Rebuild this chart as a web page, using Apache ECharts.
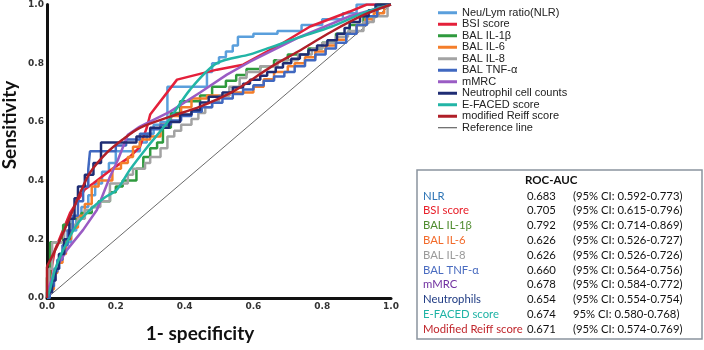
<!DOCTYPE html>
<html>
<head>
<meta charset="utf-8">
<script src="https://cdn.jsdelivr.net/npm/echarts@6/dist/echarts.min.js"></script>
<style>
  html, body { margin: 0; padding: 0; background: #fff; }
  #chart { width: 704px; height: 350px; }
</style>
</head>
<body>
<div id="chart"></div>
<script>
// ROC curves, [1 - specificity, sensitivity]
const nlrPts = [[0,0],[0,0.02],[0.01,0.02],[0.01,0.06],[0.02,0.06],[0.02,0.1],[0.035,0.1],[0.035,0.15],[0.05,0.15],[0.05,0.19],[0.07,0.19],[0.07,0.23],[0.085,0.23],[0.085,0.27],[0.1,0.27],[0.1,0.31],[0.12,0.31],[0.12,0.35],[0.14,0.35],[0.14,0.39],[0.16,0.39],[0.16,0.43],[0.18,0.43],[0.18,0.46],[0.2,0.46],[0.2,0.5],[0.27,0.5],[0.27,0.53],[0.29,0.53],[0.29,0.56],[0.31,0.56],[0.31,0.59],[0.33,0.59],[0.33,0.6],[0.35,0.6],[0.35,0.72],[0.465,0.72],[0.465,0.77],[0.48,0.77],[0.48,0.8],[0.5,0.8],[0.5,0.82],[0.52,0.82],[0.52,0.84],[0.54,0.84],[0.54,0.86],[0.555,0.86],[0.555,0.89],[0.6,0.89],[0.6,0.9],[0.67,0.9],[0.67,0.91],[0.74,0.91],[0.74,0.93],[0.8,0.93],[0.8,0.95],[0.86,0.95],[0.86,0.97],[0.9,0.97],[0.9,1],[1,1]];
const bsiPts = [[0,0],[0.01,0.08],[0.023,0.164],[0.067,0.29],[0.11,0.37],[0.134,0.39],[0.19,0.44],[0.24,0.48],[0.27,0.515],[0.29,0.58],[0.3,0.625],[0.378,0.744],[0.494,0.778],[0.57,0.795],[0.677,0.863],[0.765,0.925],[0.88,0.976],[0.93,1],[1,1]];
const il1bPts = [[0,0],[0,0.07],[0.009,0.07],[0.009,0.19],[0.047,0.19],[0.047,0.25],[0.075,0.25],[0.075,0.27],[0.1,0.27],[0.1,0.29],[0.13,0.29],[0.13,0.31],[0.15,0.31],[0.15,0.33],[0.183,0.33],[0.183,0.36],[0.2,0.36],[0.2,0.38],[0.22,0.38],[0.22,0.4],[0.26,0.4],[0.26,0.44],[0.28,0.44],[0.28,0.48],[0.3,0.48],[0.3,0.51],[0.32,0.51],[0.32,0.53],[0.337,0.53],[0.337,0.58],[0.36,0.58],[0.36,0.63],[0.387,0.63],[0.387,0.67],[0.445,0.67],[0.445,0.69],[0.48,0.69],[0.48,0.72],[0.52,0.72],[0.52,0.74],[0.55,0.74],[0.55,0.76],[0.58,0.76],[0.58,0.78],[0.62,0.78],[0.62,0.79],[0.66,0.79],[0.66,0.81],[0.7,0.81],[0.7,0.83],[0.76,0.83],[0.76,0.85],[0.8,0.85],[0.8,0.87],[0.84,0.87],[0.84,0.9],[0.88,0.9],[0.88,0.93],[0.92,0.93],[0.92,0.96],[0.96,0.96],[0.96,1],[1,1]];
const il6Pts = [[0,0],[0.005,0],[0.005,0.03],[0.02,0.03],[0.02,0.085],[0.03,0.085],[0.03,0.12],[0.045,0.12],[0.045,0.15],[0.055,0.15],[0.055,0.2],[0.07,0.2],[0.07,0.24],[0.09,0.24],[0.09,0.28],[0.11,0.28],[0.11,0.32],[0.13,0.32],[0.13,0.38],[0.15,0.38],[0.15,0.4],[0.19,0.4],[0.19,0.44],[0.215,0.44],[0.215,0.46],[0.235,0.46],[0.235,0.48],[0.25,0.48],[0.25,0.515],[0.27,0.515],[0.27,0.54],[0.3,0.54],[0.3,0.55],[0.33,0.55],[0.33,0.59],[0.36,0.59],[0.36,0.62],[0.39,0.62],[0.39,0.65],[0.42,0.65],[0.42,0.68],[0.465,0.68],[0.465,0.69],[0.53,0.69],[0.53,0.7],[0.6,0.7],[0.6,0.72],[0.63,0.72],[0.63,0.745],[0.66,0.745],[0.66,0.77],[0.7,0.77],[0.7,0.79],[0.72,0.79],[0.72,0.8],[0.75,0.8],[0.75,0.82],[0.78,0.82],[0.78,0.84],[0.81,0.84],[0.81,0.86],[0.84,0.86],[0.84,0.88],[0.87,0.88],[0.87,0.9],[0.9,0.9],[0.9,0.93],[0.925,0.93],[0.925,0.95],[0.95,0.95],[0.95,0.97],[0.98,0.97],[0.98,1],[1,1]];
const il8Pts = [[0,0],[0.006,0],[0.006,0.1],[0.015,0.1],[0.015,0.19],[0.05,0.19],[0.05,0.23],[0.07,0.23],[0.07,0.25],[0.09,0.25],[0.09,0.27],[0.11,0.27],[0.11,0.3],[0.13,0.3],[0.13,0.31],[0.155,0.31],[0.155,0.33],[0.183,0.33],[0.183,0.39],[0.235,0.39],[0.235,0.42],[0.25,0.42],[0.25,0.44],[0.285,0.44],[0.285,0.46],[0.3,0.46],[0.3,0.48],[0.33,0.48],[0.33,0.51],[0.35,0.51],[0.35,0.55],[0.37,0.55],[0.37,0.57],[0.39,0.57],[0.39,0.59],[0.42,0.59],[0.42,0.61],[0.44,0.61],[0.44,0.63],[0.46,0.63],[0.46,0.65],[0.48,0.65],[0.48,0.67],[0.5,0.67],[0.5,0.69],[0.53,0.69],[0.53,0.72],[0.56,0.72],[0.56,0.75],[0.58,0.75],[0.58,0.77],[0.62,0.77],[0.62,0.79],[0.67,0.79],[0.67,0.81],[0.73,0.81],[0.73,0.83],[0.77,0.83],[0.77,0.85],[0.8,0.85],[0.8,0.87],[0.84,0.87],[0.84,0.89],[0.875,0.89],[0.875,0.91],[0.92,0.91],[0.92,0.94],[0.95,0.94],[0.95,0.96],[0.99,0.96],[0.99,1],[1,1]];
const tnfPts = [[0,0],[0.008,0],[0.008,0.04],[0.02,0.04],[0.02,0.09],[0.03,0.09],[0.03,0.13],[0.045,0.13],[0.045,0.18],[0.06,0.18],[0.06,0.23],[0.075,0.23],[0.075,0.28],[0.09,0.28],[0.09,0.33],[0.105,0.33],[0.105,0.38],[0.12,0.38],[0.12,0.44],[0.125,0.44],[0.125,0.5],[0.2,0.5],[0.2,0.52],[0.23,0.52],[0.23,0.54],[0.27,0.54],[0.27,0.56],[0.3,0.56],[0.3,0.575],[0.33,0.575],[0.33,0.59],[0.36,0.59],[0.36,0.605],[0.39,0.605],[0.39,0.62],[0.42,0.62],[0.42,0.635],[0.45,0.635],[0.45,0.65],[0.48,0.65],[0.48,0.665],[0.51,0.665],[0.51,0.68],[0.54,0.68],[0.54,0.695],[0.57,0.695],[0.57,0.71],[0.6,0.71],[0.6,0.725],[0.63,0.725],[0.63,0.74],[0.66,0.74],[0.66,0.755],[0.69,0.755],[0.69,0.77],[0.72,0.77],[0.72,0.79],[0.75,0.79],[0.75,0.81],[0.78,0.81],[0.78,0.83],[0.81,0.83],[0.81,0.85],[0.84,0.85],[0.84,0.87],[0.87,0.87],[0.87,0.9],[0.9,0.9],[0.9,0.93],[0.93,0.93],[0.93,0.96],[0.96,0.96],[0.96,0.99],[0.98,0.99],[0.98,1],[1,1]];
const mmrcPts = [[0,0],[0.003,0.027],[0.023,0.096],[0.058,0.164],[0.105,0.232],[0.145,0.3],[0.183,0.413],[0.206,0.47],[0.235,0.556],[0.27,0.584],[0.358,0.635],[0.445,0.7],[0.523,0.761],[0.59,0.805],[0.735,0.89],[0.88,0.96],[1,1]];
const neutPts = [[0,0],[0.005,0],[0.005,0.02],[0.015,0.02],[0.015,0.06],[0.025,0.06],[0.025,0.1],[0.035,0.1],[0.035,0.15],[0.05,0.15],[0.05,0.2],[0.065,0.2],[0.065,0.27],[0.08,0.27],[0.08,0.34],[0.09,0.34],[0.09,0.38],[0.11,0.38],[0.11,0.42],[0.135,0.42],[0.135,0.46],[0.157,0.46],[0.157,0.53],[0.26,0.53],[0.26,0.55],[0.3,0.55],[0.3,0.58],[0.355,0.58],[0.355,0.6],[0.387,0.6],[0.387,0.625],[0.42,0.625],[0.42,0.64],[0.445,0.64],[0.445,0.666],[0.47,0.666],[0.47,0.686],[0.51,0.686],[0.51,0.7],[0.54,0.7],[0.54,0.717],[0.57,0.717],[0.57,0.73],[0.59,0.73],[0.59,0.744],[0.62,0.744],[0.62,0.757],[0.64,0.757],[0.64,0.77],[0.665,0.77],[0.665,0.785],[0.686,0.785],[0.686,0.8],[0.71,0.8],[0.71,0.815],[0.735,0.815],[0.735,0.83],[0.76,0.83],[0.76,0.845],[0.785,0.845],[0.785,0.86],[0.815,0.86],[0.815,0.878],[0.843,0.878],[0.843,0.9],[0.865,0.9],[0.865,0.92],[0.88,0.92],[0.88,0.94],[0.91,0.94],[0.91,0.96],[0.935,0.96],[0.935,0.98],[0.955,0.98],[0.955,1],[1,1]];
const efacedPts = [[0,0],[0.009,0.03],[0.023,0.096],[0.047,0.164],[0.087,0.25],[0.125,0.3],[0.165,0.34],[0.203,0.369],[0.241,0.437],[0.29,0.512],[0.349,0.597],[0.416,0.71],[0.494,0.8],[0.59,0.83],[0.648,0.853],[0.73,0.887],[0.828,0.925],[0.924,0.973],[1,1]];
const reiffPts = [[0,0],[0,0.105],[0.01,0.13],[0.038,0.198],[0.067,0.276],[0.1,0.368],[0.125,0.427],[0.174,0.495],[0.22,0.54],[0.27,0.58],[0.358,0.618],[0.445,0.652],[0.54,0.703],[0.648,0.785],[0.73,0.84],[0.828,0.908],[0.924,0.966],[1,1]];
const refPts = [[0,0],[1,1]];

const seriesNames = ['Neu/Lym ratio(NLR)', 'BSI score', 'BAL IL-1β', 'BAL IL-6', 'BAL IL-8', 'BAL TNF-α', 'mMRC', 'Neutrophil cell counts', 'E-FACED score', 'modified Reiff score', 'Reference line'];
const seriesData = [nlrPts, bsiPts, il1bPts, il6Pts, il8Pts, tnfPts, mmrcPts, neutPts, efacedPts, reiffPts, refPts];
const seriesColors = ['#5a9fdc', '#e4203a', '#2f9a3e', '#f47e2a', '#a3a3a3', '#4068c0', '#9a5cc4', '#1f2d74', '#22b5a6', '#b01f28', '#444444'];
const smoothFlags = [false, false, false, false, false, false, false, false, 0.3, 0.3, false];

const axisTicks = [0, 0.2, 0.4, 0.6, 0.8, 1.0];

// AUC table
const tableNames = ['NLR', 'BSI score', 'BAL IL-1β', 'BAL IL-6', 'BAL IL-8', 'BAL TNF-α', 'mMRC', 'Neutrophils', 'E-FACED score', 'Modified Reiff score'];
const tableAuc = ['0.683', '0.705', '0.792', '0.626', '0.626', '0.660', '0.678', '0.654', '0.674', '0.671'];
const tableCi = ['(95% CI: 0.592-0.773)', '(95% CI: 0.615-0.796)', '(95% CI: 0.714-0.869)', '(95% CI: 0.526-0.727)', '(95% CI: 0.526-0.726)', '(95% CI: 0.564-0.756)', '(95% CI: 0.584-0.772)', '(95% CI: 0.554-0.754)', '95% CI: 0.580-0.768)', '(95% CI: 0.574-0.769)'];
const tableColors = ['#2e75b6', '#e8202a', '#4e8b2e', '#f26a2a', '#9a9a9a', '#4a6cc0', '#7030a0', '#203c84', '#1fb3a5', '#c0262c'];

const chart = echarts.init(document.getElementById('chart'), null, { renderer: 'canvas' });

const tableFont = 'Lato, "Open Sans", sans-serif';
const tableGraphics = [
  {
    type: 'rect',
    shape: { x: 417, y: 170, width: 285, height: 169 },
    style: { fill: '#fff', stroke: '#8a949e', lineWidth: 1.5 },
  },
  {
    type: 'text', x: 525, y: 180,
    style: { text: 'ROC-AUC', font: 'bold 11.5px ' + tableFont, fill: '#111', verticalAlign: 'middle' },
  },
];
tableNames.forEach((n, i) => {
  const y = 196 + i * 14.8;
  tableGraphics.push(
    { type: 'text', x: 423, y, style: { text: n, font: '11.3px ' + tableFont, fill: tableColors[i], verticalAlign: 'middle' } },
    { type: 'text', x: 527, y, style: { text: tableAuc[i], font: '11.3px ' + tableFont, fill: '#111', verticalAlign: 'middle' } },
    { type: 'text', x: 573, y, style: { text: tableCi[i], font: '11.3px ' + tableFont, fill: '#111', verticalAlign: 'middle' } }
  );
});

const option = {
  animation: false,
  backgroundColor: '#fff',
  grid: { left: 47, right: 313, top: 4, bottom: 52 },
  xAxis: {
    type: 'value', min: 0, max: 1, interval: 0.2,
    axisLine: { show: true, lineStyle: { color: '#111', width: 3 } },
    axisTick: { show: false },
    splitLine: { show: false },
    axisLabel: {
      margin: 4, color: '#333', fontSize: 9, fontWeight: 'bold', fontFamily: 'DejaVu Sans',
      formatter: (v) => axisTicks.includes(+v.toFixed(1)) ? v.toFixed(1) : '',
    },
  },
  yAxis: {
    type: 'value', min: 0, max: 1, interval: 0.2,
    axisLine: { show: true, lineStyle: { color: '#111', width: 3 } },
    axisTick: { show: false },
    splitLine: { show: false },
    axisLabel: {
      margin: 3, color: '#333', fontSize: 9, fontWeight: 'bold', fontFamily: 'DejaVu Sans',
      formatter: (v) => v.toFixed(1),
    },
  },
  legend: {
    orient: 'vertical', left: 433, top: 2,
    itemWidth: 19, itemHeight: 3, itemGap: 0, itemTextGap: 3,
    icon: 'rect',
    textStyle: { fontSize: 11, lineHeight: 11.5, color: '#222', fontFamily: '"Liberation Sans", Arial, sans-serif' },
    data: seriesNames.map((n, i) => i === seriesNames.length - 1
      ? { name: n, icon: 'path://M0,0L19,0L19,1L0,1ZM0,-1M19,2' }
      : { name: n }),
  },
  graphic: [
    {
      type: 'text', x: 10, y: 125, rotation: Math.PI / 2,
      style: { text: 'Sensitivity', font: 'bold 19px Lato, sans-serif', fill: '#111', align: 'center', verticalAlign: 'middle' },
    },
    {
      type: 'text', x: 200, y: 334,
      style: { text: '1- specificity', font: 'bold 19px Lato, sans-serif', fill: '#111', align: 'center', verticalAlign: 'middle' },
    },
    ...tableGraphics,
  ],
  series: seriesNames.map((n, i) => ({
    name: n,
    type: 'line',
    data: seriesData[i],
    showSymbol: false,
    symbol: 'none',
    smooth: smoothFlags[i],
    silent: true,
    color: seriesColors[i],
    lineStyle: { color: seriesColors[i], width: i === seriesNames.length - 1 ? 0.8 : 2.5 },
    z: i === seriesNames.length - 1 ? 1 : 2,
  })),
};

chart.setOption(option);
</script>
</body>
</html>
